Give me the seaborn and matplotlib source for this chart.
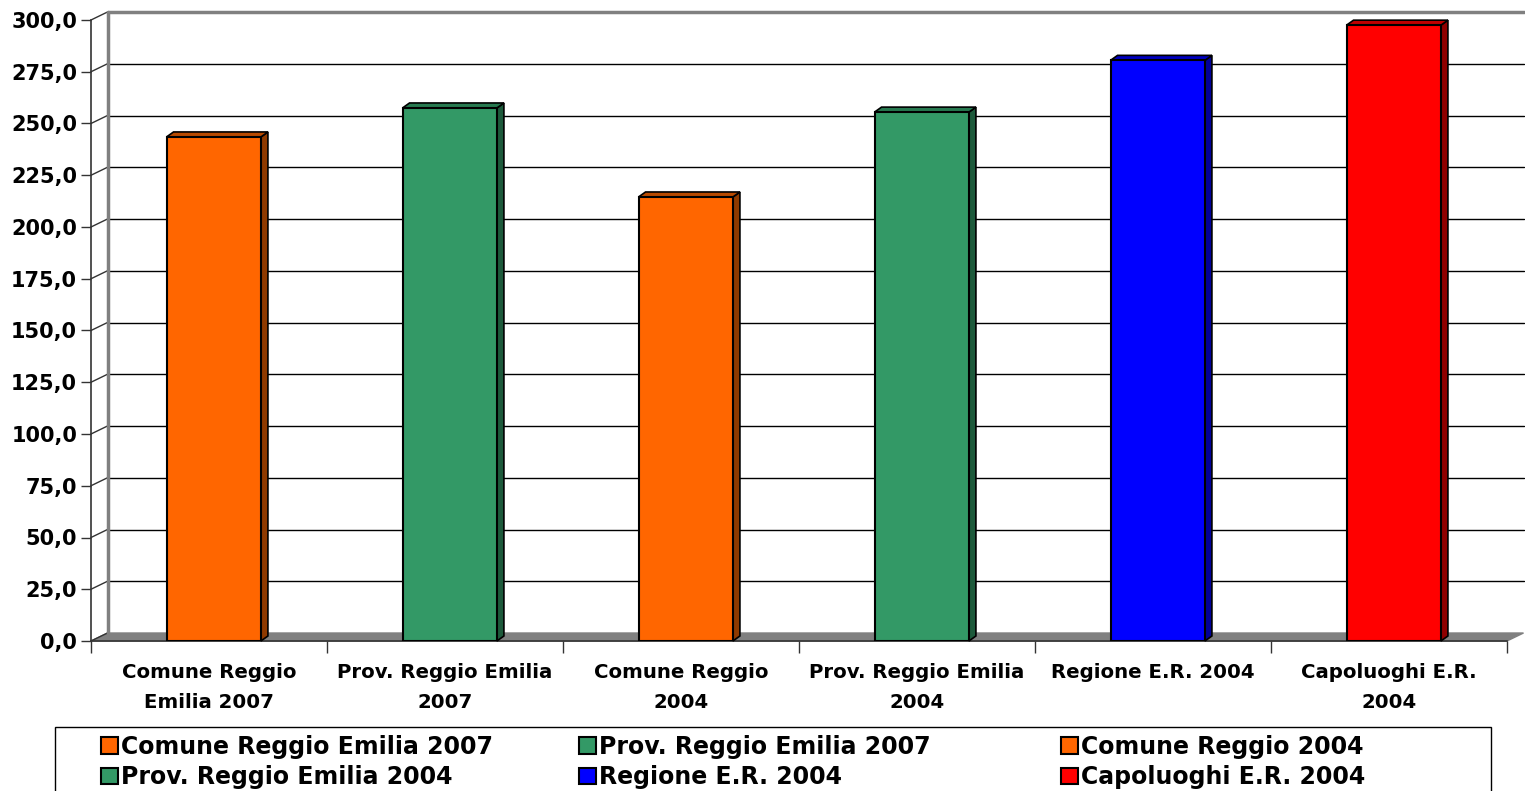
import numpy as np
import pandas as pd
import matplotlib
matplotlib.use("Agg")
import matplotlib.pyplot as plt
import seaborn as sns
from matplotlib.patches import Polygon, Patch, Rectangle
from matplotlib.ticker import FuncFormatter

# ---- dati ----
categories = [
    "Comune Reggio Emilia 2007",
    "Prov. Reggio Emilia 2007",
    "Comune Reggio 2004",
    "Prov. Reggio Emilia 2004",
    "Regione E.R. 2004",
    "Capoluoghi E.R. 2004",
]
tick_labels = [
    "Comune Reggio\nEmilia 2007",
    "Prov. Reggio Emilia\n2007",
    "Comune Reggio\n2004",
    "Prov. Reggio Emilia\n2004",
    "Regione E.R. 2004",
    "Capoluoghi E.R.\n2004",
]
values = [243.5, 257.5, 214.5, 255.5, 280.5, 297.5]
colors = ["#FF6600", "#339966", "#FF6600", "#339966", "#0000FF", "#FF0000"]
side_colors = ["#8F3A00", "#1D5A3B", "#8F3A00", "#1D5A3B", "#000099", "#8F0000"]
top_colors = ["#B84A00", "#277A50", "#B84A00", "#277A50", "#0000C0", "#C00000"]
y_ticks = [0, 25, 50, 75, 100, 125, 150, 175, 200, 225, 250, 275, 300]

sns.set_style("white")
plt.rcParams["font.family"] = ["DejaVu Sans"]
plt.rcParams["text.color"] = "black"
plt.rcParams["xtick.color"] = "black"
plt.rcParams["ytick.color"] = "black"

W, H = 1525, 791
fig = plt.figure(figsize=(W / 100, H / 100), dpi=100)
ax = fig.add_axes([91 / W, 1 - 641 / H, (1507 - 91) / W, (641 - 20) / H])

df = pd.DataFrame({"categoria": categories, "valore": values})
sns.barplot(
    data=df, x="categoria", y="valore", hue="categoria",
    palette=dict(zip(categories, colors)), saturation=1,
    width=0.4, edgecolor="black", linewidth=1.5, legend=False, ax=ax,
)
ax.set_xlim(-0.5, len(categories) - 0.5)
ax.set_ylim(0, 300)
ax.set_xlabel("")
ax.set_ylabel("")

# profondita' "3D" in unita' dati
px_x = 236.0   # pixel per categoria
px_y = 2.07    # pixel per unita' di valore
dx, dy = 16.5 / px_x, 8 / px_y        # parete di fondo
bdx, bdy = 7 / px_x, 5 / px_y         # spessore barre
x0, x1 = ax.get_xlim()

# pavimento e parete di fondo
ax.add_patch(Polygon([(x0, 0), (x0 + dx, dy), (x1 + dx, dy), (x1, 0)],
                     closed=True, facecolor="#808080", edgecolor="#808080",
                     lw=1, clip_on=False, zorder=0.3))
for t in y_ticks[1:-1]:
    ax.plot([x0 + dx, x1 + dx], [t + dy, t + dy], color="black", lw=1,
            clip_on=False, zorder=0.5)
for t in y_ticks:
    ax.plot([x0, x0 + dx], [t, t + dy], color="#333333", lw=1,
            clip_on=False, zorder=0.5)
ax.plot([x0 + dx, x1 + dx], [300 + dy, 300 + dy], color="#808080", lw=2.5,
        clip_on=False, zorder=0.5)
ax.plot([x0 + dx, x0 + dx], [dy, 300 + dy], color="#808080", lw=2.5,
        clip_on=False, zorder=0.5)

# barre con lato e tetto
for i, p in enumerate(ax.patches[:len(values)]):
    p.set_x(p.get_x() + 0.02)
    p.set_zorder(3)
    bx, bw, bh = p.get_x(), p.get_width(), p.get_height()
    ax.add_patch(Polygon([(bx + bw, 0), (bx + bw + bdx, bdy),
                          (bx + bw + bdx, bh + bdy), (bx + bw, bh)],
                         closed=True, facecolor=side_colors[i],
                         edgecolor="black", lw=1.2, zorder=2.5, clip_on=False))
    ax.add_patch(Polygon([(bx, bh), (bx + bdx, bh + bdy),
                          (bx + bw + bdx, bh + bdy), (bx + bw, bh)],
                         closed=True, facecolor=top_colors[i],
                         edgecolor="black", lw=1.2, zorder=2.5, clip_on=False))

# assi
for s in ["top", "right"]:
    ax.spines[s].set_visible(False)
for s in ["left", "bottom"]:
    ax.spines[s].set_color("#333333")
    ax.spines[s].set_linewidth(1.2)
    ax.spines[s].set_zorder(1)

ax.set_yticks(y_ticks)
ax.yaxis.set_major_formatter(FuncFormatter(lambda v, _: f"{v:.1f}".replace(".", ",")))
ax.tick_params(axis="y", direction="out", length=7, width=1, color="#333333",
               labelsize=15, pad=3, left=True)
for lbl in ax.get_yticklabels():
    lbl.set_fontweight("bold")

ax.set_xticks(range(len(categories)))
ax.set_xticklabels(tick_labels, fontsize=14.2, fontweight="bold")
for lbl in ax.get_xticklabels():
    lbl.set_linespacing(1.75)
ax.set_xticks(np.arange(x0, x1 + 0.01, 1.0), minor=True)
ax.tick_params(axis="x", which="major", length=0, pad=16)
ax.tick_params(axis="x", which="minor", direction="out", length=8.5, width=1,
               color="#333333", bottom=True)

# legenda a tre colonne equispaziate
handles = [Patch(facecolor=c, edgecolor="black", linewidth=1.5) for c in colors]
col_x = [101, 579, 1061]
for j in range(3):
    fig.legend(
        [handles[j], handles[j + 3]], [categories[j], categories[j + 3]],
        loc="upper left", bbox_to_anchor=(col_x[j] / W, 1 - 735 / H),
        frameon=False, prop={"weight": "bold", "size": 17},
        handlelength=0.7, handleheight=0.7, handletextpad=0.15,
        labelspacing=0.26, borderpad=0, borderaxespad=0,
    )
fig.add_artist(Rectangle((55 / W, -0.02), (1491 - 55) / W, 0.02 + (791 - 727) / H,
                         transform=fig.transFigure, fill=False,
                         edgecolor="black", lw=1))

fig.savefig("out.png", dpi=100)
